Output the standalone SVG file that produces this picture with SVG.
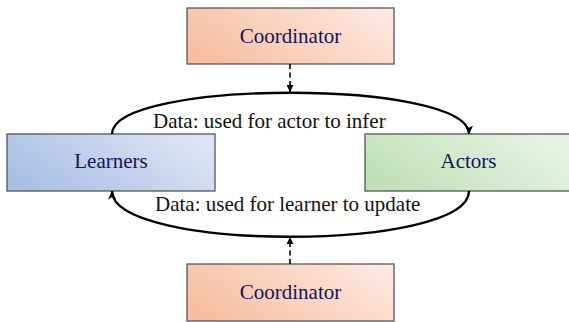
<svg xmlns="http://www.w3.org/2000/svg" width="569" height="322" viewBox="0 0 569 322">
<style>
.box{stroke:#555;stroke-width:1.3}
.lbl{font-size:21px;fill:#14145a;text-anchor:middle}
.edge{font-size:21px;fill:#111}
.arc{fill:none;stroke:#000;stroke-width:2.4}
.dash{fill:none;stroke:#000;stroke-width:1.6;stroke-dasharray:5,3.5}
</style>
<defs>
<linearGradient id="gc" x1="0" y1="0.7" x2="1" y2="0.3">
<stop offset="0" stop-color="#f7bea1"/><stop offset="1" stop-color="#fde7de"/>
</linearGradient>
<linearGradient id="gl" x1="0" y1="0.7" x2="1" y2="0.3">
<stop offset="0" stop-color="#a8bfe4"/><stop offset="1" stop-color="#dde5f4"/>
</linearGradient>
<linearGradient id="ga" x1="0" y1="0.7" x2="1" y2="0.3">
<stop offset="0" stop-color="#bfe0b7"/><stop offset="1" stop-color="#e7f4e4"/>
</linearGradient>
<marker id="ah" viewBox="0 0 10 10" refX="9.5" refY="5" markerWidth="9" markerHeight="9" markerUnits="userSpaceOnUse" orient="auto">
<path d="M0,0.5 L10,5 L0,9.5 L2.5,5 Z" fill="#000"/>
</marker>
<marker id="ad" viewBox="0 0 10 10" refX="10" refY="5" markerWidth="7" markerHeight="7" markerUnits="userSpaceOnUse" orient="auto">
<path d="M0,0 L10,5 L0,10 Z" fill="#000"/>
</marker>
</defs>
<g font-family="'Liberation Serif', 'Times New Roman', 'DejaVu Serif', serif">
<g id="coordinator-top">
<rect class="box" x="187" y="8" width="207" height="56" fill="url(#gc)"/>
<text class="lbl" x="290.5" y="43">Coordinator</text>
</g>
<g id="learners">
<rect class="box" x="7" y="134" width="208" height="57" fill="url(#gl)"/>
<text class="lbl" x="111" y="168">Learners</text>
</g>
<g id="actors">
<rect class="box" x="365" y="134" width="207" height="57" fill="url(#ga)"/>
<text class="lbl" x="468.5" y="168">Actors</text>
</g>
<g id="coordinator-bottom">
<rect class="box" x="187" y="264" width="207" height="57" fill="url(#gc)"/>
<text class="lbl" x="290.5" y="299">Coordinator</text>
</g>
<g id="connectors">
<path class="arc" d="M112,134 C112,79 469,79 469,134" marker-end="url(#ah)"/>
<path class="arc" d="M469,191 C469,252 112,252 112,191" marker-end="url(#ah)"/>
<path class="dash" d="M290,64 L290,92" marker-end="url(#ad)"/>
<path class="dash" d="M290,264 L290,237" marker-end="url(#ad)"/>
<text class="edge" x="153" y="128">Data: used for actor to infer</text>
<text class="edge" x="155" y="211">Data: used for learner to update</text>
</g>
</g>
</svg>
